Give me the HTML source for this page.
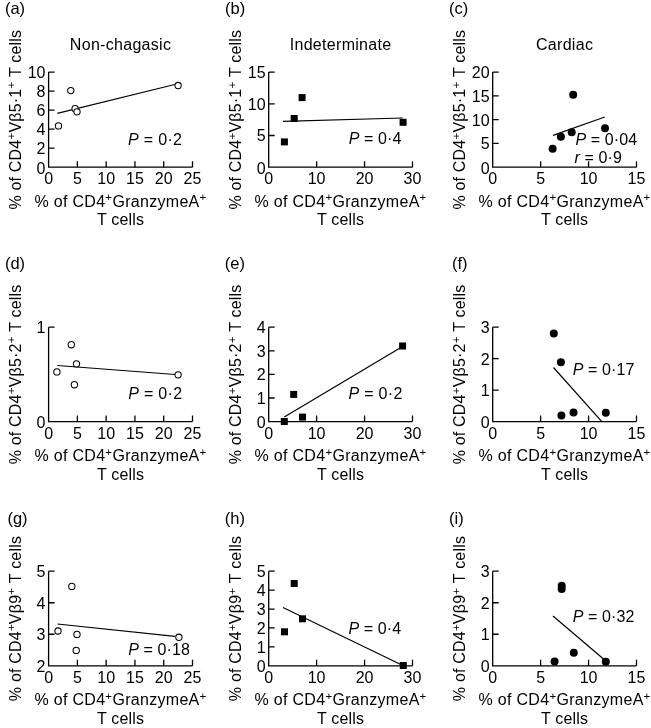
<!DOCTYPE html>
<html><head><meta charset="utf-8"><style>
html,body{margin:0;padding:0;background:#fff;}
svg{display:block;}
.wrap{will-change:transform;}
</style></head><body><div class="wrap">
<svg width="651" height="728" viewBox="0 0 651 728">
<rect width="651" height="728" fill="#fff"/>
<g font-family="&quot;Liberation Sans&quot;, sans-serif" font-size="16" fill="#000">
<path d="M48.6 72.1V167.2H192.5" fill="none" stroke="#000" stroke-width="1.3"/>
<text x="45.5" y="173.7" text-anchor="end">0</text>
<text x="45.5" y="154.08" text-anchor="end">2</text>
<text x="45.5" y="135.06" text-anchor="end">4</text>
<text x="45.5" y="116.04" text-anchor="end">6</text>
<text x="45.5" y="97.02" text-anchor="end">8</text>
<text x="45.5" y="78" text-anchor="end">10</text>
<text x="48.6" y="184.4" text-anchor="middle">0</text>
<text x="77.38" y="184.4" text-anchor="middle">5</text>
<text x="106.16" y="184.4" text-anchor="middle">10</text>
<text x="134.94" y="184.4" text-anchor="middle">15</text>
<text x="163.72" y="184.4" text-anchor="middle">20</text>
<text x="192.5" y="184.4" text-anchor="middle">25</text>
<path d="M48.6 148.18h6M48.6 129.16h6M48.6 110.14h6M48.6 91.12h6M48.6 72.1h6M77.38 167.2v-6M106.16 167.2v-6M134.94 167.2v-6M163.72 167.2v-6M192.5 167.2v-6" fill="none" stroke="#000" stroke-width="1.3"/>
<path d="M57.3 113.3L174.7 84.5" stroke="#000" stroke-width="1.2"/>
<circle cx="70.8" cy="90.6" r="3.15" fill="#fff" stroke="#000" stroke-width="1.05"/>
<circle cx="75.1" cy="108.7" r="3.15" fill="#fff" stroke="#000" stroke-width="1.05"/>
<circle cx="77" cy="111.8" r="3.15" fill="#fff" stroke="#000" stroke-width="1.05"/>
<circle cx="58.5" cy="125.9" r="3.15" fill="#fff" stroke="#000" stroke-width="1.05"/>
<circle cx="178.1" cy="85.5" r="3.15" fill="#fff" stroke="#000" stroke-width="1.05"/>
<text x="128.1" y="144.7" letter-spacing="0.3"><tspan font-style="italic">P</tspan> = 0·2</text>
<text x="4.9" y="14.3" font-size="16.5">(a)</text>
<text x="120.55" y="49.5" text-anchor="middle" letter-spacing="0.3">Non-chagasic</text>
<text x="120.55" y="206.8" text-anchor="middle" letter-spacing="0.3">% of CD4<tspan font-size="11.5" dy="-5.6">+</tspan><tspan dy="5.6">GranzymeA</tspan><tspan font-size="11.5" dy="-5.6">+</tspan></text>
<text x="120.55" y="225.4" text-anchor="middle" letter-spacing="0.15">T cells</text>
<text transform="translate(21 119.65) rotate(-90)" text-anchor="middle" letter-spacing="0.2">% of CD4<tspan font-size="11.5" dy="-5.6">+</tspan><tspan dy="5.6">V&#946;5·1</tspan><tspan font-size="11.5" dy="-5.6">+</tspan><tspan dy="5.6"> T cells</tspan></text>
<path d="M268.7 72.1V167.2H412.5" fill="none" stroke="#000" stroke-width="1.3"/>
<text x="265.6" y="173.7" text-anchor="end">0</text>
<text x="265.6" y="141.4" text-anchor="end">5</text>
<text x="265.6" y="109.7" text-anchor="end">10</text>
<text x="265.6" y="78" text-anchor="end">15</text>
<text x="268.7" y="184.4" text-anchor="middle">0</text>
<text x="316.63" y="184.4" text-anchor="middle">10</text>
<text x="364.57" y="184.4" text-anchor="middle">20</text>
<text x="412.5" y="184.4" text-anchor="middle">30</text>
<path d="M268.7 135.5h6M268.7 103.8h6M268.7 72.1h6M316.63 167.2v-6M364.57 167.2v-6M412.5 167.2v-6" fill="none" stroke="#000" stroke-width="1.3"/>
<path d="M283 121.4L402.7 118" stroke="#000" stroke-width="1.2"/>
<rect x="280.9" y="138.4" width="7" height="7" fill="#000"/>
<rect x="290.7" y="115" width="7" height="7" fill="#000"/>
<rect x="298.6" y="94.1" width="7" height="7" fill="#000"/>
<rect x="399.6" y="118.8" width="7" height="7" fill="#000"/>
<text x="348.7" y="144.3" letter-spacing="0.1"><tspan font-style="italic">P</tspan> = 0·4</text>
<text x="225" y="14.3" font-size="16.5">(b)</text>
<text x="340.6" y="49.5" text-anchor="middle" letter-spacing="0.3">Indeterminate</text>
<text x="340.6" y="206.8" text-anchor="middle" letter-spacing="0.3">% of CD4<tspan font-size="11.5" dy="-5.6">+</tspan><tspan dy="5.6">GranzymeA</tspan><tspan font-size="11.5" dy="-5.6">+</tspan></text>
<text x="340.6" y="225.4" text-anchor="middle" letter-spacing="0.15">T cells</text>
<text transform="translate(241.1 119.65) rotate(-90)" text-anchor="middle" letter-spacing="0.2">% of CD4<tspan font-size="11.5" dy="-5.6">+</tspan><tspan dy="5.6">V&#946;5·1</tspan><tspan font-size="11.5" dy="-5.6">+</tspan><tspan dy="5.6"> T cells</tspan></text>
<path d="M492.7 72.1V167.2H636.5" fill="none" stroke="#000" stroke-width="1.3"/>
<text x="489.6" y="173.7" text-anchor="end">0</text>
<text x="489.6" y="149.32" text-anchor="end">5</text>
<text x="489.6" y="125.55" text-anchor="end">10</text>
<text x="489.6" y="101.78" text-anchor="end">15</text>
<text x="489.6" y="78" text-anchor="end">20</text>
<text x="492.7" y="184.4" text-anchor="middle">0</text>
<text x="540.63" y="184.4" text-anchor="middle">5</text>
<text x="588.57" y="184.4" text-anchor="middle">10</text>
<text x="636.5" y="184.4" text-anchor="middle">15</text>
<path d="M492.7 143.42h6M492.7 119.65h6M492.7 95.88h6M492.7 72.1h6M540.63 167.2v-6M588.57 167.2v-6M636.5 167.2v-6" fill="none" stroke="#000" stroke-width="1.3"/>
<path d="M553 135.4L604.8 117" stroke="#000" stroke-width="1.2"/>
<circle cx="552.6" cy="148.8" r="4" fill="#000"/>
<circle cx="560.9" cy="136.7" r="4" fill="#000"/>
<circle cx="571.7" cy="132.2" r="4" fill="#000"/>
<circle cx="573.2" cy="94.7" r="4" fill="#000"/>
<circle cx="605" cy="128.3" r="4" fill="#000"/>
<text x="575.4" y="144.6" letter-spacing="0.1"><tspan font-style="italic">P</tspan> = 0·04</text>
<text x="574.5" y="163" letter-spacing="0.1"><tspan font-style="italic">r</tspan> = 0·9</text>
<text x="449.1" y="14.3" font-size="16.5">(c)</text>
<text x="564.6" y="49.5" text-anchor="middle" letter-spacing="0.3">Cardiac</text>
<text x="564.6" y="206.8" text-anchor="middle" letter-spacing="0.3">% of CD4<tspan font-size="11.5" dy="-5.6">+</tspan><tspan dy="5.6">GranzymeA</tspan><tspan font-size="11.5" dy="-5.6">+</tspan></text>
<text x="564.6" y="225.4" text-anchor="middle" letter-spacing="0.15">T cells</text>
<text transform="translate(465.1 119.65) rotate(-90)" text-anchor="middle" letter-spacing="0.2">% of CD4<tspan font-size="11.5" dy="-5.6">+</tspan><tspan dy="5.6">V&#946;5·1</tspan><tspan font-size="11.5" dy="-5.6">+</tspan><tspan dy="5.6"> T cells</tspan></text>
<path d="M48.6 327.2V421.6H192.5" fill="none" stroke="#000" stroke-width="1.3"/>
<text x="45.5" y="428.1" text-anchor="end">0</text>
<text x="45.5" y="333.1" text-anchor="end">1</text>
<text x="48.6" y="438.8" text-anchor="middle">0</text>
<text x="77.38" y="438.8" text-anchor="middle">5</text>
<text x="106.16" y="438.8" text-anchor="middle">10</text>
<text x="134.94" y="438.8" text-anchor="middle">15</text>
<text x="163.72" y="438.8" text-anchor="middle">20</text>
<text x="192.5" y="438.8" text-anchor="middle">25</text>
<path d="M48.6 327.2h6M77.38 421.6v-6M106.16 421.6v-6M134.94 421.6v-6M163.72 421.6v-6M192.5 421.6v-6" fill="none" stroke="#000" stroke-width="1.3"/>
<path d="M57.3 365.5L175 374.5" stroke="#000" stroke-width="1.2"/>
<circle cx="71.3" cy="344.7" r="3.15" fill="#fff" stroke="#000" stroke-width="1.05"/>
<circle cx="76.5" cy="363.8" r="3.15" fill="#fff" stroke="#000" stroke-width="1.05"/>
<circle cx="56.9" cy="371.9" r="3.15" fill="#fff" stroke="#000" stroke-width="1.05"/>
<circle cx="74.4" cy="384.7" r="3.15" fill="#fff" stroke="#000" stroke-width="1.05"/>
<circle cx="178.1" cy="374.8" r="3.15" fill="#fff" stroke="#000" stroke-width="1.05"/>
<text x="128.2" y="398.8" letter-spacing="0.3"><tspan font-style="italic">P</tspan> = 0·2</text>
<text x="4.9" y="269" font-size="16.5">(d)</text>
<text x="120.55" y="461.2" text-anchor="middle" letter-spacing="0.3">% of CD4<tspan font-size="11.5" dy="-5.6">+</tspan><tspan dy="5.6">GranzymeA</tspan><tspan font-size="11.5" dy="-5.6">+</tspan></text>
<text x="120.55" y="479.8" text-anchor="middle" letter-spacing="0.15">T cells</text>
<text transform="translate(21 374.4) rotate(-90)" text-anchor="middle" letter-spacing="0.2">% of CD4<tspan font-size="11.5" dy="-5.6">+</tspan><tspan dy="5.6">V&#946;5·2</tspan><tspan font-size="11.5" dy="-5.6">+</tspan><tspan dy="5.6"> T cells</tspan></text>
<path d="M268.7 327.2V421.6H412.5" fill="none" stroke="#000" stroke-width="1.3"/>
<text x="265.6" y="428.1" text-anchor="end">0</text>
<text x="265.6" y="403.9" text-anchor="end">1</text>
<text x="265.6" y="380.3" text-anchor="end">2</text>
<text x="265.6" y="356.7" text-anchor="end">3</text>
<text x="265.6" y="333.1" text-anchor="end">4</text>
<text x="268.7" y="438.8" text-anchor="middle">0</text>
<text x="316.63" y="438.8" text-anchor="middle">10</text>
<text x="364.57" y="438.8" text-anchor="middle">20</text>
<text x="412.5" y="438.8" text-anchor="middle">30</text>
<path d="M268.7 398h6M268.7 374.4h6M268.7 350.8h6M268.7 327.2h6M316.63 421.6v-6M364.57 421.6v-6M412.5 421.6v-6" fill="none" stroke="#000" stroke-width="1.3"/>
<path d="M284.3 417.1L399.2 348.4" stroke="#000" stroke-width="1.2"/>
<rect x="280.8" y="418" width="7" height="7" fill="#000"/>
<rect x="290.2" y="390.9" width="7" height="7" fill="#000"/>
<rect x="299" y="413.6" width="7" height="7" fill="#000"/>
<rect x="399.1" y="342.5" width="7" height="7" fill="#000"/>
<text x="348.5" y="398.8" letter-spacing="0.3"><tspan font-style="italic">P</tspan> = 0·2</text>
<text x="224.8" y="269" font-size="16.5">(e)</text>
<text x="340.6" y="461.2" text-anchor="middle" letter-spacing="0.3">% of CD4<tspan font-size="11.5" dy="-5.6">+</tspan><tspan dy="5.6">GranzymeA</tspan><tspan font-size="11.5" dy="-5.6">+</tspan></text>
<text x="340.6" y="479.8" text-anchor="middle" letter-spacing="0.15">T cells</text>
<text transform="translate(241.1 374.4) rotate(-90)" text-anchor="middle" letter-spacing="0.2">% of CD4<tspan font-size="11.5" dy="-5.6">+</tspan><tspan dy="5.6">V&#946;5·2</tspan><tspan font-size="11.5" dy="-5.6">+</tspan><tspan dy="5.6"> T cells</tspan></text>
<path d="M492.7 327.2V421.6H636.5" fill="none" stroke="#000" stroke-width="1.3"/>
<text x="489.6" y="428.1" text-anchor="end">0</text>
<text x="489.6" y="396.03" text-anchor="end">1</text>
<text x="489.6" y="364.57" text-anchor="end">2</text>
<text x="489.6" y="333.1" text-anchor="end">3</text>
<text x="492.7" y="438.8" text-anchor="middle">0</text>
<text x="540.63" y="438.8" text-anchor="middle">5</text>
<text x="588.57" y="438.8" text-anchor="middle">10</text>
<text x="636.5" y="438.8" text-anchor="middle">15</text>
<path d="M492.7 390.13h6M492.7 358.67h6M492.7 327.2h6M540.63 421.6v-6M588.57 421.6v-6M636.5 421.6v-6" fill="none" stroke="#000" stroke-width="1.3"/>
<path d="M553.5 367.5L601.6 421.4" stroke="#000" stroke-width="1.2"/>
<circle cx="553.8" cy="333.4" r="4" fill="#000"/>
<circle cx="560.9" cy="362.3" r="4" fill="#000"/>
<circle cx="561.4" cy="415.6" r="4" fill="#000"/>
<circle cx="573.5" cy="412.5" r="4" fill="#000"/>
<circle cx="605.8" cy="412.7" r="4" fill="#000"/>
<text x="572.7" y="375.4" letter-spacing="0.1"><tspan font-style="italic">P</tspan> = 0·17</text>
<text x="451.9" y="269" font-size="16.5">(f)</text>
<text x="564.6" y="461.2" text-anchor="middle" letter-spacing="0.3">% of CD4<tspan font-size="11.5" dy="-5.6">+</tspan><tspan dy="5.6">GranzymeA</tspan><tspan font-size="11.5" dy="-5.6">+</tspan></text>
<text x="564.6" y="479.8" text-anchor="middle" letter-spacing="0.15">T cells</text>
<text transform="translate(465.1 374.4) rotate(-90)" text-anchor="middle" letter-spacing="0.2">% of CD4<tspan font-size="11.5" dy="-5.6">+</tspan><tspan dy="5.6">V&#946;5·2</tspan><tspan font-size="11.5" dy="-5.6">+</tspan><tspan dy="5.6"> T cells</tspan></text>
<path d="M48.6 571.2V665.8H192.5" fill="none" stroke="#000" stroke-width="1.3"/>
<text x="45.5" y="672.3" text-anchor="end">2</text>
<text x="45.5" y="640.17" text-anchor="end">3</text>
<text x="45.5" y="608.63" text-anchor="end">4</text>
<text x="45.5" y="577.1" text-anchor="end">5</text>
<text x="48.6" y="683" text-anchor="middle">0</text>
<text x="77.38" y="683" text-anchor="middle">5</text>
<text x="106.16" y="683" text-anchor="middle">10</text>
<text x="134.94" y="683" text-anchor="middle">15</text>
<text x="163.72" y="683" text-anchor="middle">20</text>
<text x="192.5" y="683" text-anchor="middle">25</text>
<path d="M48.6 634.27h6M48.6 602.73h6M48.6 571.2h6M77.38 665.8v-6M106.16 665.8v-6M134.94 665.8v-6M163.72 665.8v-6M192.5 665.8v-6" fill="none" stroke="#000" stroke-width="1.3"/>
<path d="M57.4 624L175 636.3" stroke="#000" stroke-width="1.2"/>
<circle cx="71.8" cy="586.4" r="3.15" fill="#fff" stroke="#000" stroke-width="1.05"/>
<circle cx="58" cy="631" r="3.15" fill="#fff" stroke="#000" stroke-width="1.05"/>
<circle cx="77" cy="634.4" r="3.15" fill="#fff" stroke="#000" stroke-width="1.05"/>
<circle cx="76.2" cy="650.4" r="3.15" fill="#fff" stroke="#000" stroke-width="1.05"/>
<circle cx="178.9" cy="637.3" r="3.15" fill="#fff" stroke="#000" stroke-width="1.05"/>
<text x="128.2" y="654.8" letter-spacing="0.1"><tspan font-style="italic">P</tspan> = 0·18</text>
<text x="7.4" y="524.2" font-size="16.5">(g)</text>
<text x="120.55" y="705.4" text-anchor="middle" letter-spacing="0.3">% of CD4<tspan font-size="11.5" dy="-5.6">+</tspan><tspan dy="5.6">GranzymeA</tspan><tspan font-size="11.5" dy="-5.6">+</tspan></text>
<text x="120.55" y="724" text-anchor="middle" letter-spacing="0.15">T cells</text>
<text transform="translate(21 618.5) rotate(-90)" text-anchor="middle" letter-spacing="0.2">% of CD4<tspan font-size="11.5" dy="-5.6">+</tspan><tspan dy="5.6">V&#946;9</tspan><tspan font-size="11.5" dy="-5.6">+</tspan><tspan dy="5.6"> T cells</tspan></text>
<path d="M268.7 571.2V665.8H412.5" fill="none" stroke="#000" stroke-width="1.3"/>
<text x="265.6" y="672.3" text-anchor="end">0</text>
<text x="265.6" y="652.78" text-anchor="end">1</text>
<text x="265.6" y="633.86" text-anchor="end">2</text>
<text x="265.6" y="614.94" text-anchor="end">3</text>
<text x="265.6" y="596.02" text-anchor="end">4</text>
<text x="265.6" y="577.1" text-anchor="end">5</text>
<text x="268.7" y="683" text-anchor="middle">0</text>
<text x="316.63" y="683" text-anchor="middle">10</text>
<text x="364.57" y="683" text-anchor="middle">20</text>
<text x="412.5" y="683" text-anchor="middle">30</text>
<path d="M268.7 646.88h6M268.7 627.96h6M268.7 609.04h6M268.7 590.12h6M268.7 571.2h6M316.63 665.8v-6M364.57 665.8v-6M412.5 665.8v-6" fill="none" stroke="#000" stroke-width="1.3"/>
<path d="M283 607.5L401.8 665" stroke="#000" stroke-width="1.2"/>
<rect x="290.7" y="580" width="7" height="7" fill="#000"/>
<rect x="281" y="628.3" width="7" height="7" fill="#000"/>
<rect x="299" y="615.3" width="7" height="7" fill="#000"/>
<rect x="399.8" y="662" width="7" height="7" fill="#000"/>
<text x="348.5" y="634.4" letter-spacing="0.1"><tspan font-style="italic">P</tspan> = 0·4</text>
<text x="224.8" y="524.2" font-size="16.5">(h)</text>
<text x="340.6" y="705.4" text-anchor="middle" letter-spacing="0.3">% of CD4<tspan font-size="11.5" dy="-5.6">+</tspan><tspan dy="5.6">GranzymeA</tspan><tspan font-size="11.5" dy="-5.6">+</tspan></text>
<text x="340.6" y="724" text-anchor="middle" letter-spacing="0.15">T cells</text>
<text transform="translate(241.1 618.5) rotate(-90)" text-anchor="middle" letter-spacing="0.2">% of CD4<tspan font-size="11.5" dy="-5.6">+</tspan><tspan dy="5.6">V&#946;9</tspan><tspan font-size="11.5" dy="-5.6">+</tspan><tspan dy="5.6"> T cells</tspan></text>
<path d="M492.7 571.2V665.8H636.5" fill="none" stroke="#000" stroke-width="1.3"/>
<text x="489.6" y="672.3" text-anchor="end">0</text>
<text x="489.6" y="640.17" text-anchor="end">1</text>
<text x="489.6" y="608.63" text-anchor="end">2</text>
<text x="489.6" y="577.1" text-anchor="end">3</text>
<text x="492.7" y="683" text-anchor="middle">0</text>
<text x="540.63" y="683" text-anchor="middle">5</text>
<text x="588.57" y="683" text-anchor="middle">10</text>
<text x="636.5" y="683" text-anchor="middle">15</text>
<path d="M492.7 634.27h6M492.7 602.73h6M492.7 571.2h6M540.63 665.8v-6M588.57 665.8v-6M636.5 665.8v-6" fill="none" stroke="#000" stroke-width="1.3"/>
<path d="M553 616L603.5 659" stroke="#000" stroke-width="1.2"/>
<circle cx="561.7" cy="585.7" r="4" fill="#000"/>
<circle cx="561.7" cy="588.9" r="4" fill="#000"/>
<circle cx="554.6" cy="661.4" r="4" fill="#000"/>
<circle cx="573.8" cy="652.7" r="4" fill="#000"/>
<circle cx="605.8" cy="661.7" r="4" fill="#000"/>
<text x="572.7" y="621.7" letter-spacing="0.1"><tspan font-style="italic">P</tspan> = 0·32</text>
<text x="449.1" y="524.2" font-size="16.5">(i)</text>
<text x="564.6" y="705.4" text-anchor="middle" letter-spacing="0.3">% of CD4<tspan font-size="11.5" dy="-5.6">+</tspan><tspan dy="5.6">GranzymeA</tspan><tspan font-size="11.5" dy="-5.6">+</tspan></text>
<text x="564.6" y="724" text-anchor="middle" letter-spacing="0.15">T cells</text>
<text transform="translate(465.1 618.5) rotate(-90)" text-anchor="middle" letter-spacing="0.2">% of CD4<tspan font-size="11.5" dy="-5.6">+</tspan><tspan dy="5.6">V&#946;9</tspan><tspan font-size="11.5" dy="-5.6">+</tspan><tspan dy="5.6"> T cells</tspan></text>
</g></svg>
</div></body></html>
